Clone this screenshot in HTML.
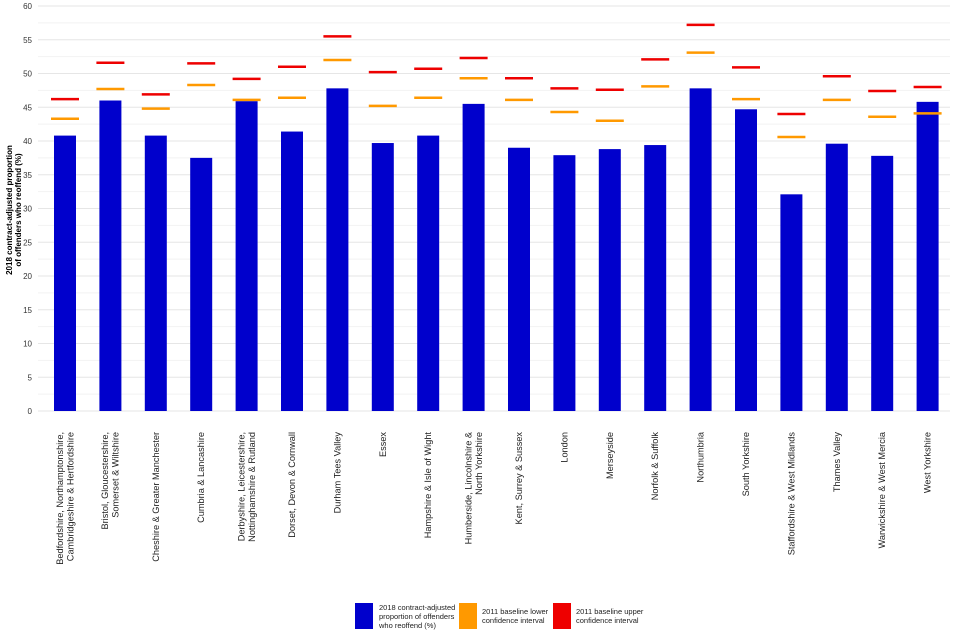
<!DOCTYPE html>
<html><head><meta charset="utf-8"><style>
body{margin:0;background:#fff;font-family:"Liberation Sans",sans-serif;}
svg{display:block}
</style></head><body>
<svg id="chart" width="960" height="640" font-family="Liberation Sans, sans-serif">
<g id="grid"></g><g id="yaxis"></g><g id="bars"></g><g id="xaxis"></g>
<text transform="translate(12,210) rotate(-90)" text-anchor="middle" font-size="8" font-weight="bold" fill="#000"><tspan x="0" dy="0">2018 contract-adjusted proportion</tspan><tspan x="0" dy="9">of offenders who reoffend (%)</tspan></text>
<g>
<rect x="355" y="603" width="18" height="26" fill="#0000cc"/>
<text font-size="7.5" fill="#222"><tspan x="379" y="610">2018 contract-adjusted</tspan><tspan x="379" y="619">proportion of offenders</tspan><tspan x="379" y="628">who reoffend (%)</tspan></text>
<rect x="459" y="603" width="18" height="26" fill="#ff9900"/>
<text font-size="7.5" fill="#222"><tspan x="482" y="614">2011 baseline lower</tspan><tspan x="482" y="623">confidence interval</tspan></text>
<rect x="553" y="603" width="18" height="26" fill="#ee0000"/>
<text font-size="7.5" fill="#222"><tspan x="576" y="614">2011 baseline upper</tspan><tspan x="576" y="623">confidence interval</tspan></text>
</g>
</svg>
<script>
const categories=[["Bedfordshire, Northamptonshire,","Cambridgeshire & Hertfordshire"],["Bristol, Gloucestershire,","Somerset & Wiltshire"],["Cheshire & Greater Manchester"],["Cumbria & Lancashire"],["Derbyshire, Leicestershire,","Nottinghamshire & Rutland"],["Dorset, Devon & Cornwall"],["Durham Tees Valley"],["Essex"],["Hampshire & Isle of Wight"],["Humberside, Lincolnshire &","North Yorkshire"],["Kent, Surrey & Sussex"],["London"],["Merseyside"],["Norfolk & Suffolk"],["Northumbria"],["South Yorkshire"],["Staffordshire & West Midlands"],["Thames Valley"],["Warwickshire & West Mercia"],["West Yorkshire"]];
const rates=[40.8,46.0,40.8,37.5,45.9,41.4,47.8,39.7,40.8,45.5,39.0,37.9,38.8,39.4,47.8,44.7,32.1,39.6,37.8,45.8];
const lowerCI=[43.3,47.7,44.8,48.3,46.1,46.4,52.0,45.2,46.4,49.3,46.1,44.3,43.0,48.1,53.1,46.2,40.6,46.1,43.6,44.1];
const upperCI=[46.2,51.6,46.9,51.5,49.2,51.0,55.5,50.2,50.7,52.3,49.3,47.8,47.6,52.1,57.2,50.9,44.0,49.6,47.4,48.0];
const yTicks=[0,5,10,15,20,25,30,35,40,45,50,55,60];
const NS="http://www.w3.org/2000/svg";
const y=v=>411-v*6.75;
const x=i=>65+i*45.4;
function mk(tag,attrs,parent){const e=document.createElementNS(NS,tag);for(const k in attrs)e.setAttribute(k,attrs[k]);parent.appendChild(e);return e;}
const grid=document.getElementById('grid'),ya=document.getElementById('yaxis'),bars=document.getElementById('bars'),xa=document.getElementById('xaxis');
for(let v=0;v<=60;v+=2.5){const l=mk('line',{x1:38,x2:950,y1:y(v),y2:y(v),stroke:v%5===0?'#e6e6e6':'#f2f2f2','stroke-width':1},grid);

}
yTicks.forEach(v=>{const t=mk('text',{x:32,y:y(v)+3,'text-anchor':'end','font-size':8,fill:'#333'},ya);t.textContent=v;

});
rates.forEach((r,i)=>{
const b=mk('rect',{x:x(i)-11,y:y(r),width:22,height:y(0)-y(r),fill:'#0000cc'},bars);


const lo=mk('line',{x1:x(i)-14,x2:x(i)+14,y1:y(lowerCI[i]),y2:y(lowerCI[i]),stroke:'#ff9900','stroke-width':2.5},bars);


const up=mk('line',{x1:x(i)-14,x2:x(i)+14,y1:y(upperCI[i]),y2:y(upperCI[i]),stroke:'#ee0000','stroke-width':2.5},bars);


const lines=categories[i];const n=lines.length;
const t=mk('text',{transform:`translate(${x(i)},432) rotate(-90)`,'text-anchor':'end','font-size':9.2,fill:'#222'},xa);


lines.forEach((s,j)=>{const ts=mk('tspan',{x:0,y:3+(j-(n-1)/2)*10.5},t);ts.textContent=s;});
});
</script>
</body></html>
